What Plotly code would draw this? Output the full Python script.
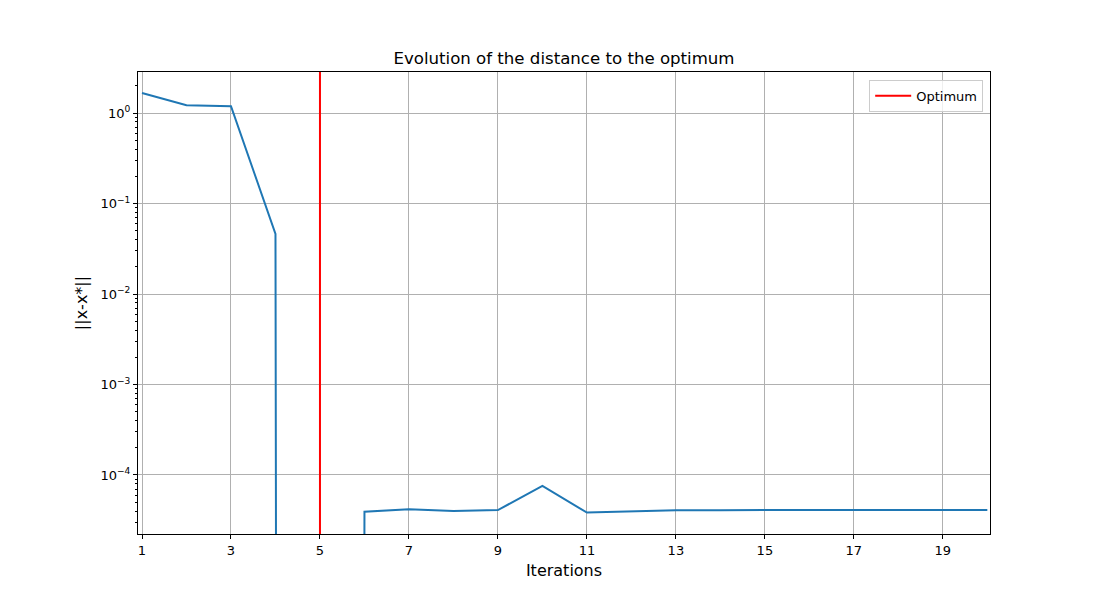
import plotly.graph_objects as go

iterations = list(range(1, 21))
distance = [1.66, 1.22, 1.19, 0.046, 1e-300, 3.93e-5, 4.18e-5, 4.0e-5, 4.1e-5, 7.57e-5,
            3.84e-5, 3.97e-5, 4.07e-5, 4.09e-5, 4.1e-5, 4.1e-5, 4.1e-5, 4.1e-5, 4.1e-5, 4.1e-5]
optimum_iter = 5
xtick_vals = [1, 3, 5, 7, 9, 11, 13, 15, 17, 19]
ytick_vals = [1, 0.1, 0.01, 0.001, 0.0001]
ytick_text = ["10<sup>0</sup>", "10<sup>−1</sup>", "10<sup>−2</sup>", "10<sup>−3</sup>", "10<sup>−4</sup>"]
minor_vals = [m * 10.0 ** e for e in range(-5, 1) for m in range(2, 10)]

FONT = "DejaVu Sans"
YRANGE = [-4.652, 0.453]

fig = go.Figure()
fig.add_trace(go.Scatter(x=iterations, y=distance, mode="lines",
                         line=dict(color="#1f77b4", width=2), showlegend=False))
fig.add_trace(go.Scatter(x=[optimum_iter, optimum_iter], y=[1e-300, 1e300], mode="lines",
                         line=dict(color="red", width=2), name="Optimum", showlegend=True))
# invisible helper trace so the minor-tick overlay axis is drawn
fig.add_trace(go.Scatter(x=[iterations[0]], y=[distance[0]], yaxis="y2", mode="markers",
                         marker=dict(opacity=0), showlegend=False, hoverinfo="skip"))

fig.update_layout(
    width=1100, height=600,
    margin=dict(l=138, r=110, t=72, b=66),
    paper_bgcolor="white", plot_bgcolor="white",
    font=dict(family=FONT, size=13, color="black"),
    title=dict(text="Evolution of the distance to the optimum", x=0.5, xref="paper",
               y=1 - 58 / 600, yanchor="middle", font=dict(size=16.6, family=FONT)),
    legend=dict(x=0.992, y=0.983, xanchor="right", yanchor="top", itemwidth=36,
                bgcolor="rgba(255,255,255,0.8)", bordercolor="#cccccc", borderwidth=1,
                font=dict(size=13, family=FONT)),
    yaxis2=dict(type="log", range=YRANGE, overlaying="y", side="left", anchor="x",
                tickmode="array", tickvals=minor_vals, showticklabels=False,
                ticks="outside", ticklen=2, tickcolor="black", showgrid=False,
                zeroline=False, showline=False),
)
fig.update_xaxes(range=[0.91, 20.06], tickvals=xtick_vals, showgrid=True, gridcolor="#b0b0b0",
                 gridwidth=1, showline=True, linecolor="black", linewidth=1, mirror=True,
                 ticks="outside", ticklen=4, tickcolor="black", zeroline=False,
                 title=dict(text="Iterations", font=dict(size=16, family=FONT), standoff=8))
fig.update_layout(yaxis=dict(type="log", range=YRANGE, tickvals=ytick_vals, ticktext=ytick_text,
                             showgrid=True, gridcolor="#b0b0b0", gridwidth=1, showline=True,
                             linecolor="black", linewidth=1, mirror=True, ticks="outside",
                             ticklen=4, tickcolor="black", zeroline=False,
                             title=dict(text="||x-x*||", font=dict(size=16, family=FONT),
                                        standoff=8)))

fig.write_html("out.html")
